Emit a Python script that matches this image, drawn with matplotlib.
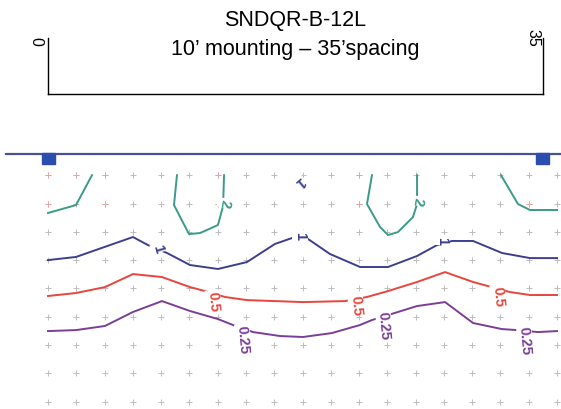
import matplotlib.pyplot as plt
import numpy as np
from matplotlib.patches import Rectangle

plt.rcParams['font.family'] = ['Liberation Sans', 'DejaVu Sans']

# values in feet, y grows downwards from the curb line
title = 'SNDQR-B-12L\n10\u2019 mounting \u2013 35\u2019spacing'
poles = [0, 35]
grid_x = np.arange(0, 37, 2)
grid_y = np.arange(1.5, 18, 2)
pink_pts = [(0, 0), (1, 0), (2, 0), (6, 0), (11, 0),
            (0, 1), (2, 1), (6, 1), (11, 1), (17, 1)]

# level 2 (four pieces)
c2_pieces = [
    ([0, 1.98, 3.11], [4.17, 3.61, 1.5]),
    ([9.12, 8.91, 9.97, 10.75, 12.02, 12.38, 12.45], [1.5, 3.61, 5.66, 5.59, 5.02, 3.68, 1.5]),
    ([22.91, 22.56, 23.48, 24.05, 24.75, 25.81, 26.10, 26.10], [1.5, 3.54, 5.16, 5.73, 5.52, 4.46, 3.54, 1.5]),
    ([32.04, 33.24, 34.09, 36.0], [1.5, 3.54, 3.96, 3.96]),
]
c1_x = [0, 1.98, 6.01, 7.07, 8.42, 10.04, 12.02, 14.07, 16.05, 17.26, 18.39,
        19.94, 22.07, 24.05, 26.10, 27.51, 28.57, 30.06, 32.11, 34.09, 36.0]
c1_y = [7.50, 7.28, 5.87, 6.44, 7.0, 7.85, 8.13, 7.64, 6.36, 5.94, 6.01,
        7.07, 7.99, 7.99, 7.21, 6.44, 6.15, 6.15, 7.0, 7.36, 7.36]
c05_x = [0, 1.98, 4.03, 6.01, 8.06, 10.04, 11.10, 12.52, 14.07, 18.03, 21.0,
         22.56, 24.05, 26.10, 28.08, 30.06, 31.12, 32.67, 34.09, 36.0]
c05_y = [10.04, 9.83, 9.41, 8.49, 8.70, 9.41, 9.69, 10.11, 10.33, 10.47, 10.40,
         10.11, 9.69, 9.05, 8.35, 9.05, 9.34, 9.76, 9.97, 9.97]
c025_x = [0, 1.98, 4.03, 6.01, 8.06, 10.04, 12.02, 13.08, 14.50, 16.41, 18.03,
          20.08, 22.07, 22.91, 24.75, 26.10, 28.08, 30.06, 32.11, 33.17, 34.65, 36.0]
c025_y = [12.52, 12.45, 12.16, 11.17, 10.40, 11.10, 11.67, 12.09, 12.59, 12.87, 12.94,
          12.66, 12.09, 11.74, 11.17, 10.75, 10.47, 11.95, 12.38, 12.45, 12.59, 12.52]

# contour labels: text, x, y, rotation
labels_2 = [('2', 12.52, 3.47, -100), ('2', 26.17, 3.32, -100)]
labels_1 = [('1', 7.78, 6.65, -75), ('1', 17.82, 5.73, -90), ('1', 27.86, 6.08, -90),
            ('1', 17.82, 1.89, -140)]
labels_05 = [('0.5', 11.67, 10.40, -85), ('0.5', 21.78, 10.68, -85), ('0.5', 31.82, 10.04, -85)]
labels_025 = [('0.25', 13.79, 13.08, -85), ('0.25', 23.76, 12.09, -85), ('0.25', 33.73, 13.15, -85)]

teal = '#3a9b88'
navy = '#3d3f8e'
red = '#e8453c'
purple = '#7a3e96'


def put_labels(ax, labels, color):
    for txt, x, y, rot in labels:
        ax.text(x, y, txt, color=color, fontsize=10.5, fontweight='bold',
                rotation=rot, ha='center', va='center', rotation_mode='anchor',
                bbox=dict(facecolor='white', edgecolor='none', pad=0.5), zorder=5)


fig = plt.figure(figsize=(5.61, 4.10), dpi=100)
ax = fig.add_axes([0, 0, 1, 1])
ax.set_xlim(-3.395, 36.28)
ax.set_ylim(18.03, -10.96)
ax.axis('off')

# grid of calculation points
gx, gy = np.meshgrid(grid_x, grid_y)
ax.plot(gx.ravel(), gy.ravel(), '+', color='#bdbdbd', ms=4.5, mew=0.7, zorder=1)
px = [grid_x[c] for c, r in pink_pts]
py = [grid_y[r] for c, r in pink_pts]
ax.plot(px, py, '+', color='#e8a4a4', ms=4.5, mew=0.7, zorder=1)

# curb line and poles
ax.plot([-2.95, 36.3], [0, 0], color='#4b4f9e', lw=1.6, zorder=2)
for p in poles:
    ax.add_patch(Rectangle((p - 0.46, -0.07), 0.92, 0.78, color='#2b4db0', zorder=3))

# top spacing scale
ax.plot([poles[0], poles[1]], [-4.24, -4.24], color='black', lw=1)
for p in poles:
    ax.plot([p, p], [-4.24, -8.2], color='black', lw=1)
ax.text(-0.85, -8.0, str(poles[0]), fontsize=11.5, rotation=-90, ha='center', va='center')
ax.text(34.3, -8.27, str(poles[1]), fontsize=11.5, rotation=-90, ha='center', va='center')
ax.text(17.5, -8.5, title, fontsize=15.5, ha='center', va='center', linespacing=1.5)

# isolux lines
for xs, ys in c2_pieces:
    ax.plot(xs, ys, color=teal, lw=1.4, zorder=4)
ax.plot(c1_x, c1_y, color=navy, lw=1.4, zorder=4)
ax.plot(c05_x, c05_y, color=red, lw=1.4, zorder=4)
ax.plot(c025_x, c025_y, color=purple, lw=1.4, zorder=4)

put_labels(ax, labels_2, teal)
put_labels(ax, labels_1, navy)
put_labels(ax, labels_05, red)
put_labels(ax, labels_025, purple)

fig.savefig('out.png', dpi=100)
